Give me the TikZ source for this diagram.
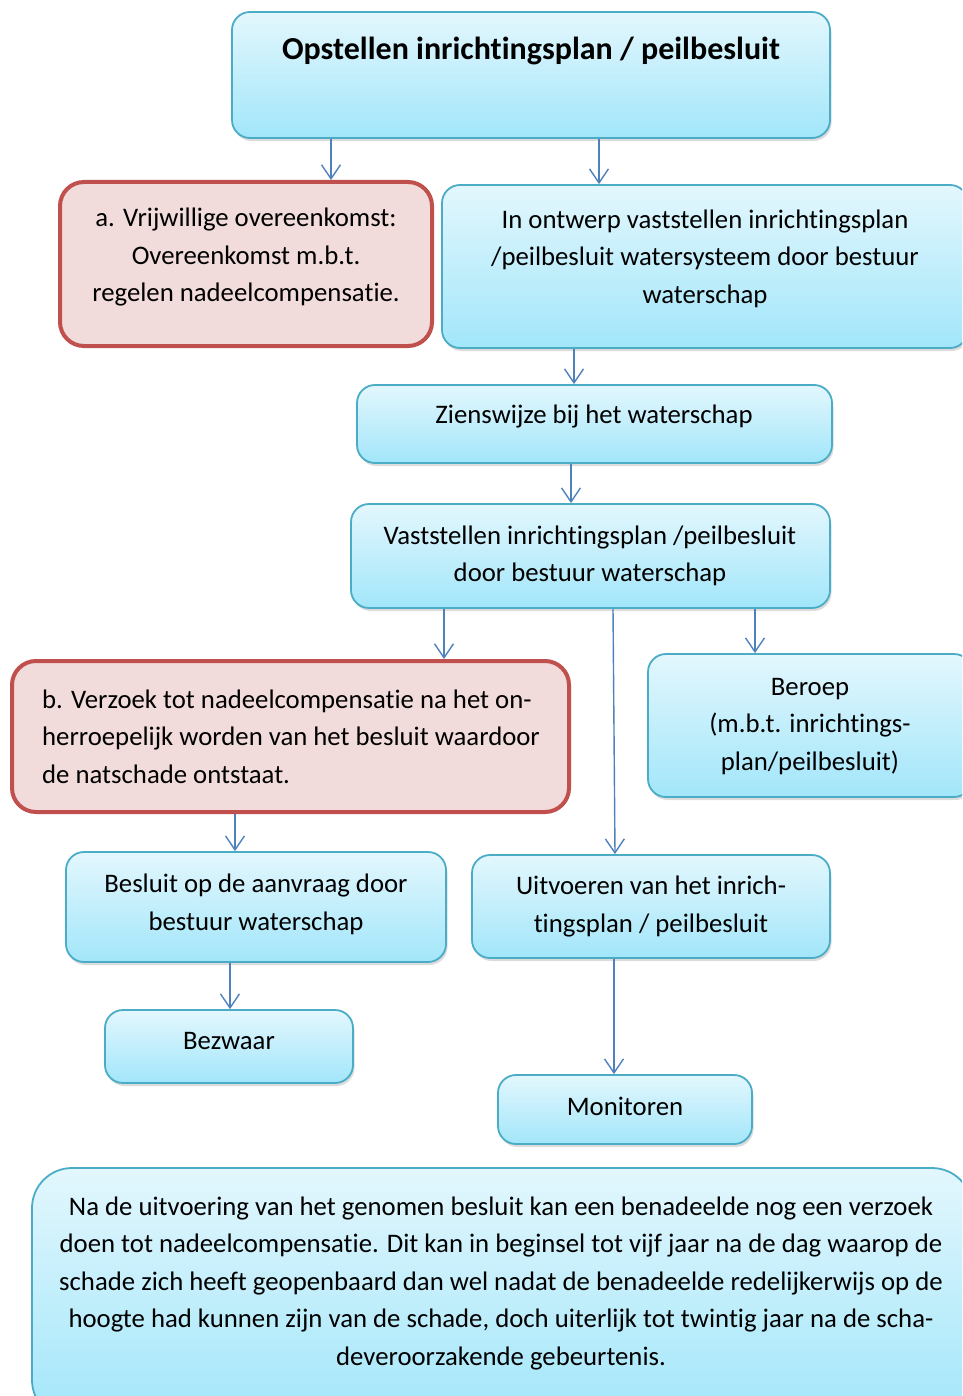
\documentclass[tikz,border=0pt]{standalone}
\usepackage{fontspec}
\setmainfont{Carlito}[Ligatures=NoCommon]
\usetikzlibrary{arrows.meta,shadows}
\definecolor{bluebd}{HTML}{4BACC6}
\definecolor{bluetop}{HTML}{E3F7FD}
\definecolor{bluebot}{HTML}{A2E6FA}
\definecolor{redbd}{HTML}{C0504D}
\definecolor{redfill}{HTML}{F2DCDB}
\definecolor{arrcol}{HTML}{4F81BD}
\tikzset{
  bluebox/.style={draw=bluebd, line width=1.8pt, rounded corners=18pt,
    top color=bluetop, bottom color=bluebot, inner sep=0pt,
    drop shadow={opacity=0.28, shadow xshift=1.5pt, shadow yshift=-3pt}},
  redbox/.style={draw=redbd, line width=4pt, rounded corners=24pt,
    fill=redfill, inner sep=0pt},
  txt/.style={font=\fontsize{26.75}{37.5}\selectfont, align=center, inner sep=0pt},
  txtl/.style={font=\fontsize{26.75}{37.5}\selectfont, align=left, inner sep=0pt},
  arr/.style={draw=arrcol, line width=1.4pt, -{Straight Barb[length=14pt,width=19pt,line width=1.4pt]}}
}
\newcommand\bx[6]{\node[#1, minimum width={#4-#2}, minimum height={#5-#3}] (#6) at ({(#2+#4)/2},{(#3+#5)/2}) {};}
\begin{document}
\begin{tikzpicture}[x=1pt,y=-1pt]
\useasboundingbox (0,0) rectangle (962,1396);
\clip (0,0) rectangle (962,1396);
% boxes
\bx{bluebox}{232}{12}{830}{138}{top}
\bx{redbox}{60}{182}{432}{346}{a}
\bx{bluebox}{442}{185}{968}{348}{ontw}
\bx{bluebox}{357}{385}{832}{463}{zien}
\bx{bluebox}{351}{504}{830}{608}{vast}
\bx{redbox}{12}{661}{569}{812}{b}
\bx{bluebox}{648}{654}{972}{797}{ber}
\bx{bluebox}{66}{852}{446}{962}{bes}
\bx{bluebox}{472}{855}{830}{958}{uit}
\bx{bluebox}{105}{1010}{353}{1083}{bez}
\bx{bluebox}{498}{1075}{752}{1144}{mon}
\bx{bluebox, rounded corners=40pt}{32}{1168}{972}{1420}{na}
% texts
\node[txt, font=\fontsize{32}{37.5}\selectfont\bfseries] (ttop) at (531,51) {Opstellen inrichtingsplan / peilbesluit};
\node[txt] (ta) at (246,257.5) {a. Vrijwillige overeenkomst:\\Overeenkomst m.b.t.\\regelen nadeelcompensatie.};
\node[txt] (tontw) at (705,258.5) {In ontwerp vaststellen inrichtingsplan\\/peilbesluit watersysteem door bestuur\\waterschap};
\node[txt] (tzien) at (594,417) {Zienswijze bij het waterschap};
\node[txt] (tvast) at (590,556) {Vaststellen inrichtingsplan /peilbesluit\\door bestuur waterschap};
\node[txtl, anchor=west] (tb) at (42,736.5) {b. Verzoek tot nadeelcompensatie na het on-\\herroepelijk worden van het besluit waardoor\\de natschade ontstaat.};
\node[txt] (tber) at (810,726.5) {Beroep\\(m.b.t. inrichtings-\\plan/peilbesluit)};
\node[txt] (tbes) at (256,904.5) {Besluit op de aanvraag door\\bestuur waterschap};
\node[txt] (tuit) at (651,906.5) {Uitvoeren van het inrich-\\tingsplan / peilbesluit};
\node[txt] (tbez) at (229,1041) {Bezwaar};
\node[txt] (tmon) at (625,1106) {Monitoren};
\node[txt] (tna) at (501,1283) {Na de uitvoering van het genomen besluit kan een benadeelde nog een verzoek\\doen tot nadeelcompensatie. Dit kan in beginsel tot vijf jaar na de dag waarop de\\schade zich heeft geopenbaard dan wel nadat de benadeelde redelijkerwijs op de\\hoogte had kunnen zijn van de schade, doch uiterlijk tot twintig jaar na de scha-\\deveroorzakende gebeurtenis.};
% x positions for connectors
\coordinate (x1) at (331,0);
\coordinate (x2) at (599,0);
\coordinate (x3) at (574,0);
\coordinate (x4) at (571,0);
\coordinate (x5) at (444,0);
\coordinate (x6a) at (613,0);
\coordinate (x6b) at (615,0);
\coordinate (x7) at (755,0);
\coordinate (x8) at (235,0);
\coordinate (x9) at (230,0);
\coordinate (x10) at (614,0);
% connectors
\draw[arr] (top.south -| x1) -- (a.north -| x1);
\draw[arr] (top.south -| x2) -- (ontw.north -| x2);
\draw[arr] (ontw.south -| x3) -- (zien.north -| x3);
\draw[arr] (zien.south -| x4) -- (vast.north -| x4);
\draw[arr] (vast.south -| x5) -- (b.north -| x5);
\draw[arr] (vast.south -| x6a) -- (uit.north -| x6b);
\draw[arr] (vast.south -| x7) -- (ber.north -| x7);
\draw[arr] (b.south -| x8) -- (bes.north -| x8);
\draw[arr] (bes.south -| x9) -- (bez.north -| x9);
\draw[arr] (uit.south -| x10) -- (mon.north -| x10);
\end{tikzpicture}
\end{document}
